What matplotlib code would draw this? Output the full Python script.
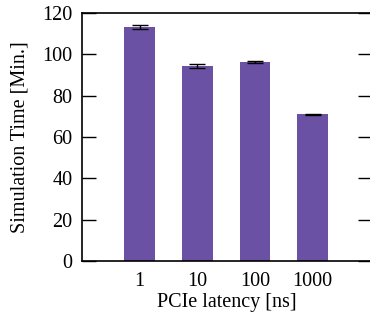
import matplotlib
matplotlib.use("Agg")
import matplotlib.pyplot as plt

categories = ["1", "10", "100", "1000"]
values = [113.3, 94.2, 96.3, 71.0]
errors = [1.1, 1.0, 0.5, 0.3]
yticks = [0, 20, 40, 60, 80, 100, 120]

plt.rcParams['font.family'] = ['Liberation Serif', 'DejaVu Serif']
FS = 14.5

fig = plt.figure(figsize=(3.70, 3.14), dpi=100)
W, H = 370, 314
ax = fig.add_axes([82 / W, 1 - 261 / H, (372 - 82) / W, (261 - 13) / H])

x = list(range(len(categories)))
ax.bar(x, values, width=0.53, color='#6a51a3', zorder=2,
       yerr=errors, capsize=6,
       error_kw=dict(ecolor='black', elinewidth=1.0, capthick=1.0))

ax.set_xlim(-1, 4.03)
ax.set_ylim(0, 120)
ax.set_yticks(yticks)
ax.set_xticks(x)
ax.set_xticklabels(categories)
ax.tick_params(axis='x', length=0, labelsize=FS, pad=8)
ax.tick_params(axis='y', direction='in', length=10, width=1.0,
               labelsize=FS, right=True, pad=7)
for s in ax.spines.values():
    s.set_linewidth(1.2)
ax.set_ylabel('Simulation Time [Min.]', fontsize=FS, labelpad=9)
ax.set_xlabel('PCIe latency [ns]', fontsize=FS, labelpad=1)

fig.savefig('out.png', dpi=100)
